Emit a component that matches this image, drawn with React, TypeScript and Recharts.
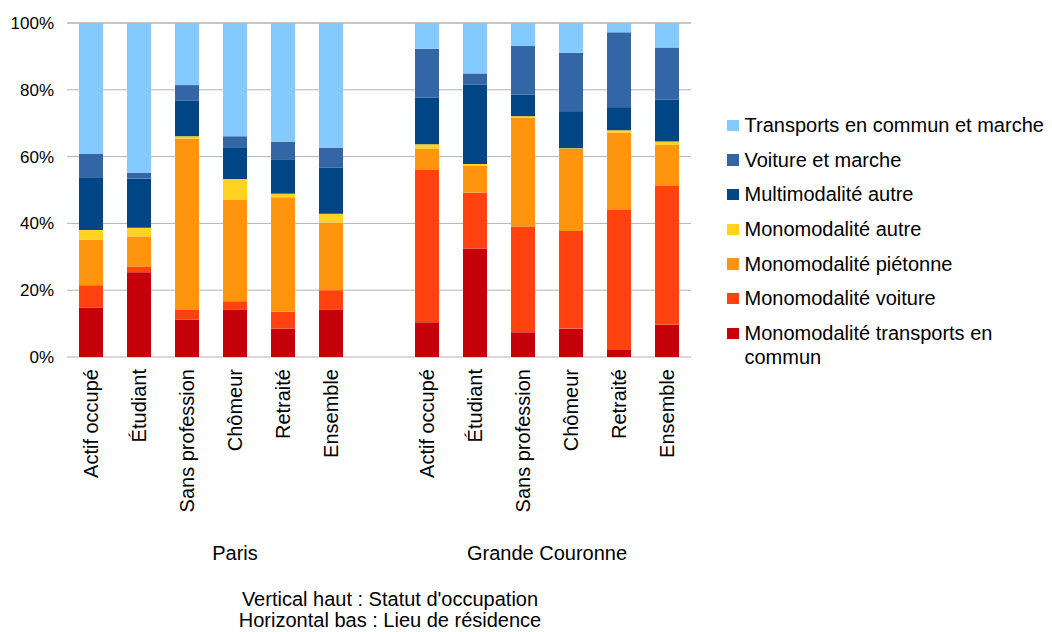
import { BarChart, Bar, XAxis, YAxis, CartesianGrid, Legend } from "recharts";

const FONT = '"Liberation Sans", Arial, sans-serif';

// statut d'occupation (vertical, haut) et lieu de résidence (horizontal, bas)
const statuts = ["Actif occupé", "Étudiant", "Sans profession", "Chômeur", "Retraité", "Ensemble"];
const lieux = ["Paris", "Grande Couronne"];
const yTicks = [0, 20, 40, 60, 80, 100];

// parts en %, 6 valeurs Paris puis 6 valeurs Grande Couronne
const monoTC = [14.8, 25.4, 11.2, 14.1, 8.5, 14.1, 10.4, 32.5, 7.4, 8.5, 2.1, 9.7];
const monoVoiture = [6.7, 1.7, 2.9, 2.6, 5.1, 5.9, 45.6, 16.7, 31.7, 29.2, 41.9, 41.5];
const monoPieton = [13.6, 9.0, 51.3, 30.3, 34.2, 20.3, 6.4, 8.0, 32.6, 24.6, 23.1, 12.3];
const monoAutre = [2.9, 2.6, 0.7, 6.3, 1.1, 2.6, 1.3, 0.6, 0.4, 0.2, 0.8, 1.0];
const multiAutre = [15.8, 14.7, 10.6, 9.5, 10.1, 13.8, 14.0, 23.7, 6.4, 11.1, 6.9, 12.5];
const voitureMarche = [7.0, 1.8, 4.7, 3.3, 5.5, 6.0, 14.6, 3.4, 14.6, 17.5, 22.4, 15.7];
const tcMarche = [39.2, 44.8, 18.6, 33.9, 35.5, 37.3, 7.7, 15.1, 6.9, 8.9, 2.8, 7.3];

const series = [
  { key: "monoTC", name: "Monomodalité transports en commun", color: "#c5000b", values: monoTC },
  { key: "monoVoiture", name: "Monomodalité voiture", color: "#ff420e", values: monoVoiture },
  { key: "monoPieton", name: "Monomodalité piétonne", color: "#ff950e", values: monoPieton },
  { key: "monoAutre", name: "Monomodalité autre", color: "#ffd320", values: monoAutre },
  { key: "multiAutre", name: "Multimodalité autre", color: "#004586", values: multiAutre },
  { key: "voitureMarche", name: "Voiture et marche", color: "#3465a4", values: voitureMarche },
  { key: "tcMarche", name: "Transports en commun et marche", color: "#83caff", values: tcMarche },
];

// Paris (6 statuts + une case vide), puis Grande Couronne
const data: any[] = [];
lieux.forEach((lieu, g) => {
  statuts.forEach((s, i) => {
    const row: any = { name: s, grp: lieu };
    series.forEach((se) => (row[se.key] = se.values[g * statuts.length + i]));
    data.push(row);
  });
  if (g === 0) data.push({ name: "", grp: lieu });
});

const StatutTick = ({ x, y, payload }: any) => (
  <text
    transform={`translate(${x},${y + 12}) rotate(-90)`}
    textAnchor="end"
    dy="0.35em"
    fontSize={20}
    fontFamily={FONT}
    fill="#000"
  >
    {payload.value}
  </text>
);

const LieuTick = ({ x, y, payload, index }: any) => {
  const idx = data.map((d, i) => (d.grp === payload.value ? i : -1)).filter((i) => i >= 0);
  const mid = (idx[0] + idx[idx.length - 1]) / 2;
  if (index !== Math.floor(mid)) return null;
  const shift = mid % 1 ? payload.offset || 24 : 0;
  return (
    <text x={x + shift} y={y + 28} textAnchor="middle" fontSize={20} fontFamily={FONT} fill="#000">
      {payload.value}
    </text>
  );
};

const AxisTitle = ({ viewBox }: any) => {
  const cx = viewBox.x + viewBox.width / 2 + 11;
  return (
    <text textAnchor="middle" fontSize={20} fontFamily={FONT} fill="#000">
      <tspan x={cx} y={viewBox.y + 74}>Vertical haut : Statut d'occupation</tspan>
      <tspan x={cx} y={viewBox.y + 95}>Horizontal bas : Lieu de résidence</tspan>
    </text>
  );
};

// légende dans l'ordre de l'empilement, du haut vers le bas
const LegendBox = () => (
  <div style={{ fontFamily: FONT, fontSize: 20, color: "#000" }}>
    {[...series].reverse().map((s) => (
      <div key={s.key} style={{ display: "flex", alignItems: "flex-start", marginBottom: 10.7 }}>
        <span
          style={{
            width: 11.5,
            height: 11.5,
            background: s.color,
            marginTop: 6.5,
            marginRight: 6,
            flex: "none",
          }}
        />
        <span style={{ lineHeight: "24px", maxWidth: 300 }}>{s.name}</span>
      </div>
    ))}
  </div>
);

export default function App() {
  return (
    <div style={{ position: "absolute", left: 0, top: 0, background: "#fff" }}>
      <BarChart
        width={1052}
        height={632}
        data={data}
        margin={{ top: 23, right: 361, bottom: 0, left: 0 }}
        barSize={24}
      >
        <CartesianGrid vertical={false} stroke="#b3b3b3" />
        <XAxis
          dataKey="name"
          height={175}
          interval={0}
          axisLine={false}
          tickLine={false}
          tickSize={0}
          tickMargin={0}
          tick={<StatutTick />}
        />
        <XAxis
          xAxisId="grp"
          dataKey="grp"
          height={100}
          interval={0}
          axisLine={false}
          tickLine={false}
          tickSize={0}
          tickMargin={0}
          tick={<LieuTick />}
          label={(props: any) => <AxisTitle {...props} />}
        />
        <YAxis
          width={67}
          domain={[0, 100]}
          ticks={yTicks}
          tickFormatter={(v) => `${v}%`}
          axisLine={false}
          tickLine={false}
          tickSize={0}
          tickMargin={13}
          tick={{ fontSize: 17, fontFamily: FONT, fill: "#000" }}
        />
        <Legend
          layout="vertical"
          align="center"
          verticalAlign="middle"
          content={<LegendBox />}
          wrapperStyle={{ position: "absolute", left: 727, top: 113, width: 325 }}
        />
        {series.map((s) => (
          <Bar
            key={s.key}
            dataKey={s.key}
            name={s.name}
            stackId="a"
            fill={s.color}
            isAnimationActive={false}
          />
        ))}
      </BarChart>
    </div>
  );
}
